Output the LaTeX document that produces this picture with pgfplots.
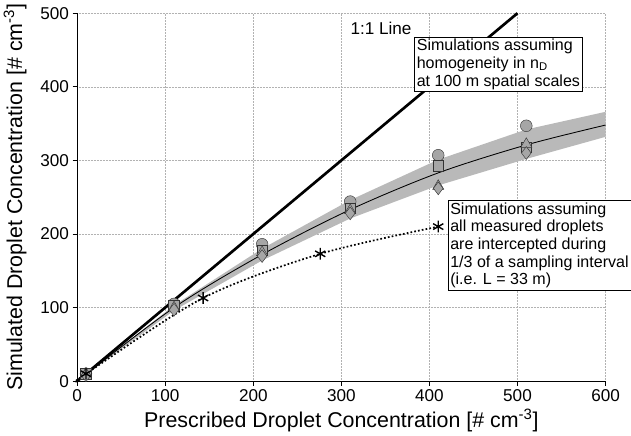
\documentclass[border=0pt]{standalone}
\usepackage{pgfplots}
\pgfplotsset{compat=1.18}
\usepackage{fontspec}
\setmainfont{Liberation Sans}
\begin{document}
\begin{tikzpicture}[x=1pt,y=1pt]
\begin{axis}[scale only axis, width=494pt, height=344pt,
 xmin=0,xmax=600,ymin=0,ymax=500,
 axis lines=left, axis line style={-,thick},
 xtick={0,100,...,600}, ytick={0,100,...,500},
 tick align=outside, tick style={black,thick},
 grid=major, grid style={densely dotted,gray!60},
 /pgf/number format/assume math mode=true,
 ticklabel style={font=\fontsize{16}{18}\selectfont},
 xlabel={Prescribed Droplet Concentration [\# cm\textsuperscript{-3}]},
 ylabel={Simulated Droplet Concentration [\# cm\textsuperscript{-3}]},
 label style={font=\fontsize{20}{22}\selectfont},
 ylabel style={yshift=6pt},
 clip=false]
\addplot[fill=gray!55,draw=none] coordinates {(0,0)(110,103)(210,180)(310,246)(410,301)(510,342)(600,366)(600,332)(510,302)(410,266)(310,221)(210,164)(110,96)(0,0)} -- cycle;
\addplot[black,thick,smooth] coordinates {(0,0)(110,100)(210,172)(310,233)(410,283)(510,321)(600,348)};
\addplot[black,line width=2.5pt] coordinates {(0,0)(500,500)};
\addplot[black,line width=1.6pt,dotted,smooth] coordinates {(0,0)(10,10)(143,113)(276,173)(410,210)};
\addplot[only marks,mark=*,mark size=5.5pt,mark options={fill=gray!70,draw=black!80}] coordinates {(10,10)(110,105)(210,186)(310,244)(410,307)(510,347)};
\addplot[only marks,mark=square*,mark size=5pt,mark options={fill=gray!70,draw=black!80}] coordinates {(10,10)(110,103)(210,178)(310,235)(410,293)(510,318)};
\addplot[only marks,mark=triangle*,mark size=6pt,mark options={fill=gray!70,draw=black!80}] coordinates {(10,10)(110,100)(210,175)(310,232)(410,265)(510,322)};
\addplot[only marks,mark=diamond*,mark size=6pt,mark options={fill=gray!70,draw=black!80}] coordinates {(10,8)(110,97)(210,170)(310,228)(410,262)(510,310)};
\addplot[only marks,mark=asterisk,mark size=5.5pt,mark options={line width=1.3pt,black}] coordinates {(10,10)(143,113)(276,173)(410,210)};
\node[font=\fontsize{16}{18}\selectfont] at (axis cs:345,480) {1:1 Line};
\node[draw,fill=white,align=left,anchor=north west,inner sep=2pt,font=\fontsize{15}{16.5}\selectfont] at (axis cs:383,468) {Simulations assuming\\homogeneity in n\textsubscript{D}\\at 100 m spatial scales};
\node[draw,fill=white,align=left,anchor=north west,inner sep=2pt,font=\fontsize{15}{16.5}\selectfont] at (axis cs:421,246) {Simulations assuming\\all measured droplets\\are intercepted during\\1/3 of a sampling interval\\(i.e. L = 33 m)};
\end{axis}
\end{tikzpicture}
\end{document}
